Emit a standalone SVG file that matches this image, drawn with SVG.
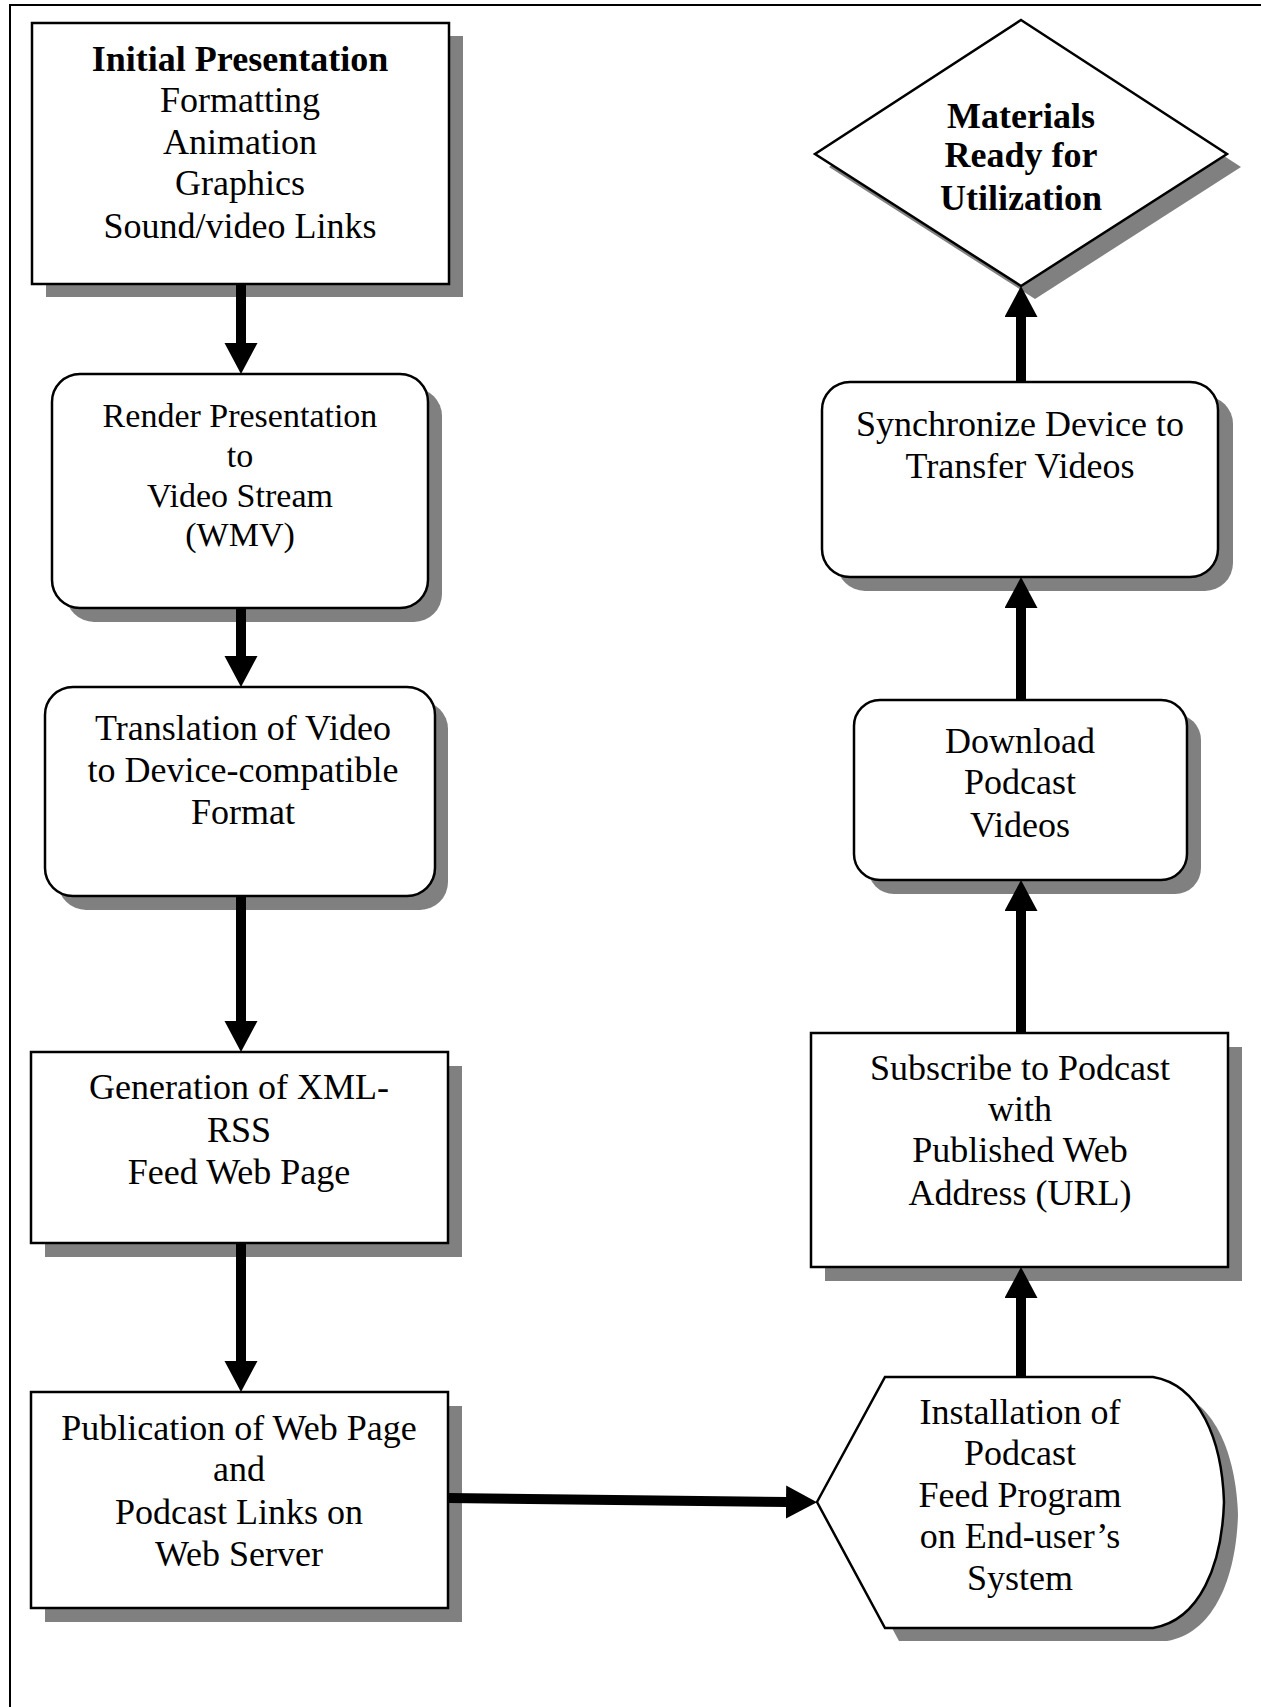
<svg xmlns="http://www.w3.org/2000/svg" width="1261" height="1707" viewBox="0 0 1261 1707">
<style>
.sh{fill:#808080;stroke:none}
.nd{fill:#fff;stroke:#000;stroke-width:2.5}
.t{font-family:"Liberation Serif","Times New Roman",serif;font-size:36px;fill:#000;text-anchor:middle}
.s{font-size:34px}
.b{font-weight:bold}
.c{stroke:#000;stroke-width:10;fill:none}
</style>
<defs>
<marker id="ah" markerUnits="userSpaceOnUse" markerWidth="34" markerHeight="34" refX="2" refY="16.5" orient="auto">
<path d="M0,0 L31,16.5 L0,33 Z" fill="#000"/>
</marker>
</defs>
<rect width="1261" height="1707" fill="#fff"/>
<path d="M10,1707 V5 H1261" fill="none" stroke="#000" stroke-width="2"/>

<g id="initial-presentation">
<rect class="sh" x="46" y="36" width="417" height="261"/>
<rect class="nd" x="32" y="23" width="417" height="261"/>
<text class="t b" x="240" y="71">Initial Presentation</text>
<text class="t" x="240" y="112">Formatting</text>
<text class="t" x="240" y="154">Animation</text>
<text class="t" x="240" y="195">Graphics</text>
<text class="t" x="240" y="238">Sound/video Links</text>
</g>

<g id="render-presentation">
<rect class="sh" x="66" y="388" width="376" height="234" rx="28"/>
<rect class="nd" x="52" y="374" width="376" height="234" rx="28"/>
<text class="t s" x="240" y="427">Render Presentation</text>
<text class="t s" x="240" y="467">to</text>
<text class="t s" x="240" y="507">Video Stream</text>
<text class="t s" x="240" y="546">(WMV)</text>
</g>

<g id="translation">
<rect class="sh" x="58" y="701" width="390" height="209" rx="28"/>
<rect class="nd" x="45" y="687" width="390" height="209" rx="28"/>
<text class="t" x="243" y="740">Translation of Video</text>
<text class="t" x="243" y="782">to Device-compatible</text>
<text class="t" x="243" y="824">Format</text>
</g>

<g id="generation-xml-rss">
<rect class="sh" x="45" y="1066" width="417" height="191"/>
<rect class="nd" x="31" y="1052" width="417" height="191"/>
<text class="t" x="239" y="1099">Generation of XML-</text>
<text class="t" x="239" y="1142">RSS</text>
<text class="t" x="239" y="1184">Feed Web Page</text>
</g>

<g id="publication">
<rect class="sh" x="45" y="1406" width="417" height="216"/>
<rect class="nd" x="31" y="1392" width="417" height="216"/>
<text class="t" x="239" y="1440">Publication of Web Page</text>
<text class="t" x="239" y="1481">and</text>
<text class="t" x="239" y="1524">Podcast Links on</text>
<text class="t" x="239" y="1566">Web Server</text>
</g>

<g id="installation">
<path class="sh" d="M831,1515 L899,1390 H1167 C1214,1398 1236,1453 1238,1515 C1236,1578 1214,1633 1167,1641 H899 Z"/>
<path class="nd" d="M817,1502 L885,1377 H1153 C1200,1385 1222,1440 1224,1502 C1222,1565 1200,1620 1153,1628 H885 Z"/>
<text class="t" x="1020" y="1424">Installation of</text>
<text class="t" x="1020" y="1465">Podcast</text>
<text class="t" x="1020" y="1507">Feed Program</text>
<text class="t" x="1020" y="1548">on End-user’s</text>
<text class="t" x="1020" y="1590">System</text>
</g>

<g id="subscribe">
<rect class="sh" x="825" y="1047" width="417" height="234"/>
<rect class="nd" x="811" y="1033" width="417" height="234"/>
<text class="t" x="1020" y="1080">Subscribe to Podcast</text>
<text class="t" x="1020" y="1121">with</text>
<text class="t" x="1020" y="1162">Published Web</text>
<text class="t" x="1020" y="1205">Address (URL)</text>
</g>

<g id="download">
<rect class="sh" x="868" y="714" width="333" height="180" rx="26"/>
<rect class="nd" x="854" y="700" width="333" height="180" rx="26"/>
<text class="t" x="1020" y="753">Download</text>
<text class="t" x="1020" y="794">Podcast</text>
<text class="t" x="1020" y="837">Videos</text>
</g>

<g id="synchronize">
<rect class="sh" x="837" y="396" width="396" height="195" rx="28"/>
<rect class="nd" x="822" y="382" width="396" height="195" rx="28"/>
<text class="t" x="1020" y="436">Synchronize Device to</text>
<text class="t" x="1020" y="478">Transfer Videos</text>
</g>

<g id="materials-ready">
<polygon class="sh" points="1035,33 1241,167 1035,299 829,167"/>
<polygon class="nd" points="1021,20 1227,154 1021,286 815,154"/>
<text class="t b" x="1021" y="128">Materials</text>
<text class="t b" x="1021" y="167">Ready for</text>
<text class="t b" x="1021" y="210">Utilization</text>
</g>

<g id="connectors">
<line class="c" x1="241" y1="284" x2="241" y2="345" marker-end="url(#ah)"/>
<line class="c" x1="241" y1="608" x2="241" y2="658" marker-end="url(#ah)"/>
<line class="c" x1="241" y1="896" x2="241" y2="1023" marker-end="url(#ah)"/>
<line class="c" x1="241" y1="1243" x2="241" y2="1363" marker-end="url(#ah)"/>
<line class="c" x1="448" y1="1498" x2="788" y2="1502" marker-end="url(#ah)"/>
<line class="c" x1="1021" y1="1377" x2="1021" y2="1296" marker-end="url(#ah)"/>
<line class="c" x1="1021" y1="1033" x2="1021" y2="909" marker-end="url(#ah)"/>
<line class="c" x1="1021" y1="700" x2="1021" y2="606" marker-end="url(#ah)"/>
<line class="c" x1="1021" y1="382" x2="1021" y2="315" marker-end="url(#ah)"/>
</g>
</svg>
